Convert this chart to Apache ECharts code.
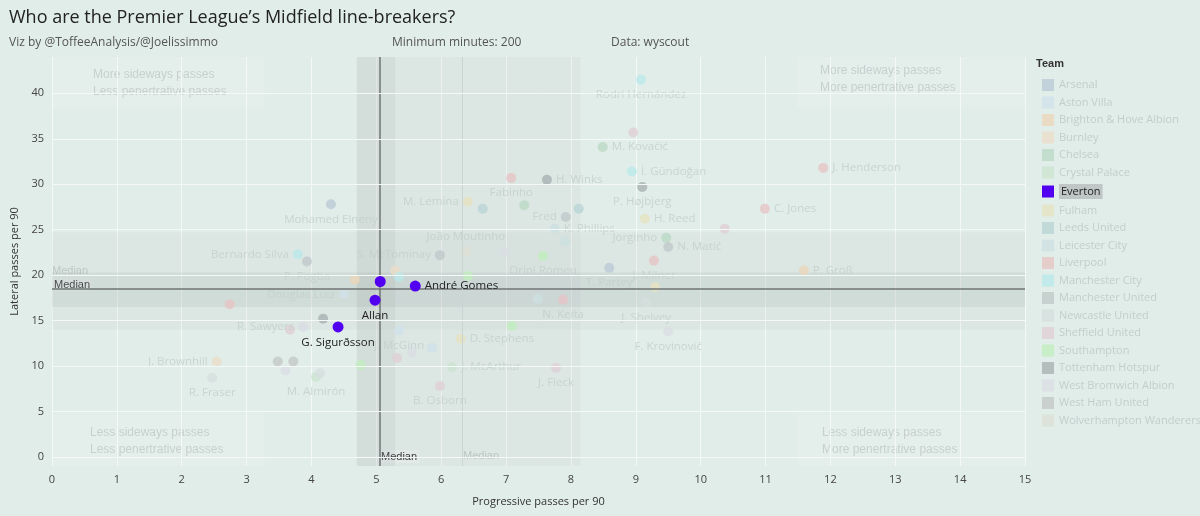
<!DOCTYPE html>
<html>
<head>
<meta charset="utf-8">
<script src="https://cdn.jsdelivr.net/npm/echarts@6/dist/echarts.min.js"></script>
<style>
  html, body { margin: 0; padding: 0; background: #e1ede9; }
  #main { width: 1200px; height: 516px; }
</style>
</head>
<body>
<div id="main"></div>
<script>
var teams = ['Arsenal', 'Aston Villa', 'Brighton & Hove Albion', 'Burnley', 'Chelsea', 'Crystal Palace',
    'Everton', 'Fulham', 'Leeds United', 'Leicester City', 'Liverpool', 'Manchester City',
    'Manchester United', 'Newcastle United', 'Sheffield United', 'Southampton', 'Tottenham Hotspur',
    'West Bromwich Albion', 'West Ham United', 'Wolverhampton Wanderers'];
var teamColors = ['#bccbd6', '#d0e1ea', '#ebd6ba', '#ebdcc8', '#bcdac5', '#cce5d0',
    '#5200f0', '#e6e2c0', '#b9d4d4', '#cde0e0', '#e6c4c4', '#bae8ea',
    '#c0c9c9', '#d4dfdf', '#e0cfd6', '#c0eebd', '#a7b2b2',
    '#d9dde4', '#c3c8c6', '#dde0d5'];

// [x progressive, y lateral, team, player name ('' = no label)]
var players = [
    [9.08, 41.5, 'Manchester City', 'Rodri Hernández'],
    [8.49, 34.1, 'Chelsea', 'M. Kovačić'],
    [8.96, 35.7, 'Sheffield United', ''],
    [8.94, 31.4, 'Manchester City', 'İ. Gündoğan'],
    [9.10, 29.7, 'Tottenham Hotspur', 'P. Højbjerg'],
    [7.63, 30.5, 'Tottenham Hotspur', 'H. Winks'],
    [7.08, 30.7, 'Liverpool', 'Fabinho'],
    [7.28, 27.7, 'Chelsea', ''],
    [11.89, 31.8, 'Liverpool', 'J. Henderson'],
    [10.99, 27.3, 'Liverpool', 'C. Jones'],
    [10.37, 25.1, 'Sheffield United', ''],
    [9.14, 26.2, 'Fulham', 'H. Reed'],
    [6.41, 28.1, 'Fulham', 'M. Lemina'],
    [6.64, 27.3, 'Leeds United', ''],
    [4.30, 27.8, 'Arsenal', 'Mohamed Elneny'],
    [7.92, 26.4, 'Manchester United', 'Fred'],
    [8.12, 27.3, 'Leeds United', ''],
    [7.75, 25.1, 'Leicester City', 'K. Phillips'],
    [7.91, 23.7, 'Leicester City', ''],
    [9.47, 24.1, 'Chelsea', 'Jorginho'],
    [9.50, 23.1, 'Manchester United', 'N. Matić'],
    [3.79, 22.3, 'Manchester City', 'Bernardo Silva'],
    [3.93, 21.5, 'Manchester United', 'P. Pogba'],
    [5.98, 22.2, 'Manchester United', 'S. McTominay'],
    [6.38, 22.6, 'Wolverhampton Wanderers', 'João Moutinho'],
    [6.98, 22.5, 'West Bromwich Albion', ''],
    [7.57, 22.1, 'Southampton', 'Oriol Romeu'],
    [9.28, 21.6, 'Liverpool', 'J. Milner'],
    [8.59, 20.8, 'Arsenal', 'T. Partey'],
    [9.30, 18.7, 'Fulham', ''],
    [11.59, 20.5, 'Brighton & Hove Albion', 'P. Groß'],
    [4.67, 19.5, 'Brighton & Hove Albion', ''],
    [5.29, 20.5, 'Burnley', ''],
    [5.35, 19.8, 'Manchester City', ''],
    [6.41, 19.9, 'Southampton', ''],
    [4.50, 17.9, 'Aston Villa', 'Douglas Luiz'],
    [2.74, 16.8, 'Liverpool', ''],
    [7.49, 17.4, 'Leicester City', ''],
    [7.88, 17.3, 'Liverpool', 'N. Keita'],
    [9.16, 17.0, 'Newcastle United', 'J. Shelvey'],
    [4.18, 15.2, 'Tottenham Hotspur', ''],
    [3.87, 14.3, 'West Bromwich Albion', 'R. Sawyers'],
    [3.67, 14.0, 'Sheffield United', ''],
    [7.09, 14.4, 'Southampton', ''],
    [9.50, 13.8, 'West Bromwich Albion', 'F. Krovinović'],
    [5.35, 13.9, 'Aston Villa', 'J. McGinn'],
    [5.32, 10.9, 'Sheffield United', ''],
    [5.55, 11.5, 'West Bromwich Albion', ''],
    [5.86, 12.0, 'Aston Villa', ''],
    [6.30, 13.0, 'Fulham', 'D. Stephens'],
    [4.76, 10.1, 'Southampton', ''],
    [6.17, 9.9, 'Crystal Palace', 'J. McArthur'],
    [7.77, 9.8, 'Sheffield United', 'J. Fleck'],
    [5.98, 7.8, 'Sheffield United', 'B. Osborn'],
    [4.07, 8.8, 'Crystal Palace', 'M. Almirón'],
    [4.13, 9.2, 'Newcastle United', ''],
    [2.54, 10.5, 'Burnley', 'J. Brownhill'],
    [2.47, 8.7, 'Newcastle United', 'R. Fraser'],
    [3.48, 10.5, 'West Ham United', ''],
    [3.72, 10.5, 'West Ham United', ''],
    [3.60, 9.5, 'West Bromwich Albion', ''],
    [5.06, 19.3, 'Everton', ''],
    [5.60, 18.8, 'Everton', 'André Gomes'],
    [4.98, 17.25, 'Everton', 'Allan'],
    [4.41, 14.3, 'Everton', 'G. Sigurðsson']
];
var medianX = 5.05;
var medianY = 18.5;
var xTicks = [0, 1, 2, 3, 4, 5, 6, 7, 8, 9, 10, 11, 12, 13, 14, 15];
var yTicks = [0, 5, 10, 15, 20, 25, 30, 35, 40];

var labelPos = {
    'Rodri Hernández': 'bottom', 'Fabinho': 'bottom', 'M. Lemina': 'left', 'Mohamed Elneny': 'bottom',
    'Fred': 'left', 'Jorginho': 'left', 'Bernardo Silva': 'left', 'P. Pogba': 'bottom',
    'S. McTominay': 'left', 'João Moutinho': 'top', 'Oriol Romeu': 'bottom', 'J. Milner': 'bottom',
    'T. Partey': 'bottom', 'Douglas Luiz': 'left', 'N. Keita': 'bottom', 'J. Shelvey': 'bottom',
    'R. Sawyers': 'left', 'F. Krovinović': 'bottom', 'J. McGinn': 'bottom', 'J. McArthur': 'right',
    'J. Fleck': 'bottom', 'B. Osborn': 'bottom', 'M. Almirón': 'bottom', 'J. Brownhill': 'left',
    'R. Fraser': 'bottom', 'Allan': 'bottom', 'G. Sigurðsson': 'bottom', 'P. Højbjerg': 'bottom'
};

var fadedText = '#c2cecb';
var chart = echarts.init(document.getElementById('main'));

var series = teams.map(function (team, i) {
    var isEverton = team === 'Everton';
    var data = players.filter(function (p) { return p[2] === team; }).map(function (p) {
        return {
            value: [p[0], p[1]],
            label: {
                show: p[3] !== '',
                formatter: p[3],
                position: labelPos[p[3]] || 'right',
                color: isEverton ? '#222' : fadedText,
                fontSize: 11.5,
                distance: 4
            }
        };
    });
    return {
        name: team,
        type: 'scatter',
        symbolSize: isEverton ? 11 : 10,
        itemStyle: { color: teamColors[i], opacity: isEverton ? 1 : 0.8 },
        z: isEverton ? 5 : 3,
        data: data
    };
});

// shaded bands, corner boxes, median and grid lines
var lines = [{ xAxis: medianX }, { yAxis: medianY }, { xAxis: 6.32, lineStyle: { color: '#cad4d2', width: 1 } }]
    .concat(yTicks.map(function (v) { return { yAxis: v, lineStyle: { color: '#f4f8f7', width: 1 } }; }));

series.push({
    name: 'bands',
    type: 'scatter',
    data: [],
    silent: true,
    z: 1,
    markArea: {
        silent: true,
        data: [
            [{ xAxis: 4.7, yAxis: -1, itemStyle: { color: 'rgba(150,160,160,0.07)' } }, { xAxis: 8.15, yAxis: 44 }],
            [{ xAxis: 4.7, yAxis: -1, itemStyle: { color: 'rgba(150,160,160,0.12)' } }, { xAxis: 5.29, yAxis: 44 }],
            [{ xAxis: 0, yAxis: 14.0, itemStyle: { color: 'rgba(150,160,160,0.07)' } }, { xAxis: 15, yAxis: 24.7 }],
            [{ xAxis: 0, yAxis: 16.5, itemStyle: { color: 'rgba(150,160,160,0.16)' } }, { xAxis: 15, yAxis: 20.3 }],
            [{ xAxis: 0, yAxis: 38.5, itemStyle: { color: 'rgba(255,255,255,0.12)' } }, { xAxis: 3.28, yAxis: 44 }],
            [{ xAxis: 11.48, yAxis: 38.5, itemStyle: { color: 'rgba(255,255,255,0.12)' } }, { xAxis: 15, yAxis: 44 }],
            [{ xAxis: 0, yAxis: -1, itemStyle: { color: 'rgba(255,255,255,0.12)' } }, { xAxis: 3.28, yAxis: 4.6 }],
            [{ xAxis: 11.48, yAxis: -1, itemStyle: { color: 'rgba(255,255,255,0.12)' } }, { xAxis: 15, yAxis: 4.6 }]
        ]
    },
    markLine: {
        silent: true,
        symbol: 'none',
        lineStyle: { color: '#6f7474', type: 'solid', width: 1.5 },
        label: { show: false },
        data: lines
    }
});

var legendData = teams.map(function (t) {
    return t === 'Everton'
        ? { name: t, textStyle: { color: '#222', backgroundColor: '#bfc6c5', padding: [2, 2] } }
        : { name: t };
});

var quadText = { fontSize: 12, fill: '#bfcac8', align: 'center', lineHeight: 17 };

chart.setOption({
    backgroundColor: '#e1ede9',
    textStyle: { fontFamily: 'Open Sans, Noto Sans, sans-serif' },
    animation: false,
    title: [
        { text: 'Who are the Premier League\u2019s Midfield line-breakers?', left: 4, top: 4,
          textStyle: { fontSize: 18, fontWeight: 'normal', color: '#222' } },
        { text: 'Viz by @ToffeeAnalysis/@Joelissimmo', left: 4, top: 32,
          textStyle: { fontSize: 12, fontWeight: 'normal', color: '#555' } },
        { text: 'Minimum minutes: 200', left: 387, top: 32,
          textStyle: { fontSize: 12, fontWeight: 'normal', color: '#555' } },
        { text: 'Data: wyscout', left: 606, top: 32,
          textStyle: { fontSize: 12, fontWeight: 'normal', color: '#555' } }
    ],
    legend: {
        orient: 'vertical',
        left: 1037,
        top: 74,
        itemWidth: 12,
        itemHeight: 12,
        itemGap: 5.5,
        icon: 'rect',
        selectedMode: false,
        textStyle: { color: fadedText, fontSize: 11 },
        data: legendData
    },
    graphic: [
        { type: 'text', left: 1036, top: 58, style: { text: 'Team', fontSize: 11, fontWeight: 'bold', fill: '#333' } },
        { type: 'text', left: 93, top: 66, style: Object.assign({ text: 'More sideways passes\nLess penertrative passes' }, quadText) },
        { type: 'text', left: 820, top: 62, style: Object.assign({ text: 'More sideways passes\nMore penertrative passes' }, quadText) },
        { type: 'text', left: 90, top: 424, style: Object.assign({ text: 'Less sideways passes\nLess penertrative passes' }, quadText) },
        { type: 'text', left: 822, top: 424, style: Object.assign({ text: 'Less sideways passes\nMore penertrative passes' }, quadText) },
        { type: 'text', left: 52, top: 278, style: { text: 'Median', fontSize: 11, fill: '#333', backgroundColor: '#e8efed', padding: [1, 2] } },
        { type: 'text', left: 52, top: 265, style: { text: 'Median', fontSize: 11, fill: '#bfcac8' } },
        { type: 'text', left: 379, top: 450, style: { text: 'Median', fontSize: 11, fill: '#333', backgroundColor: '#e8efed', padding: [1, 2] } },
        { type: 'text', left: 463, top: 450, style: { text: 'Median', fontSize: 11, fill: '#bfcac8' } }
    ],
    grid: { left: 52, right: 175, top: 57, bottom: 50 },
    xAxis: {
        type: 'value', min: 0, max: 15, interval: 1,
        name: 'Progressive passes per 90', nameLocation: 'middle', nameGap: 30,
        nameTextStyle: { fontSize: 11, color: '#333' },
        axisLine: { show: false }, axisTick: { show: false },
        axisLabel: { color: '#444', fontSize: 11,
            formatter: function (v) { return xTicks.indexOf(v) >= 0 ? v : ''; } },
        splitLine: { lineStyle: { color: '#f4f8f7', width: 1 } }
    },
    yAxis: {
        type: 'value', min: -1, max: 44,
        name: 'Lateral passes per 90', nameLocation: 'middle', nameGap: 30,
        nameTextStyle: { fontSize: 11, color: '#333' },
        axisLine: { show: false }, axisTick: { show: false },
        axisLabel: { color: '#444', fontSize: 11, customValues: yTicks },
        splitLine: { show: false }
    },
    series: series
});
</script>
</body>
</html>
